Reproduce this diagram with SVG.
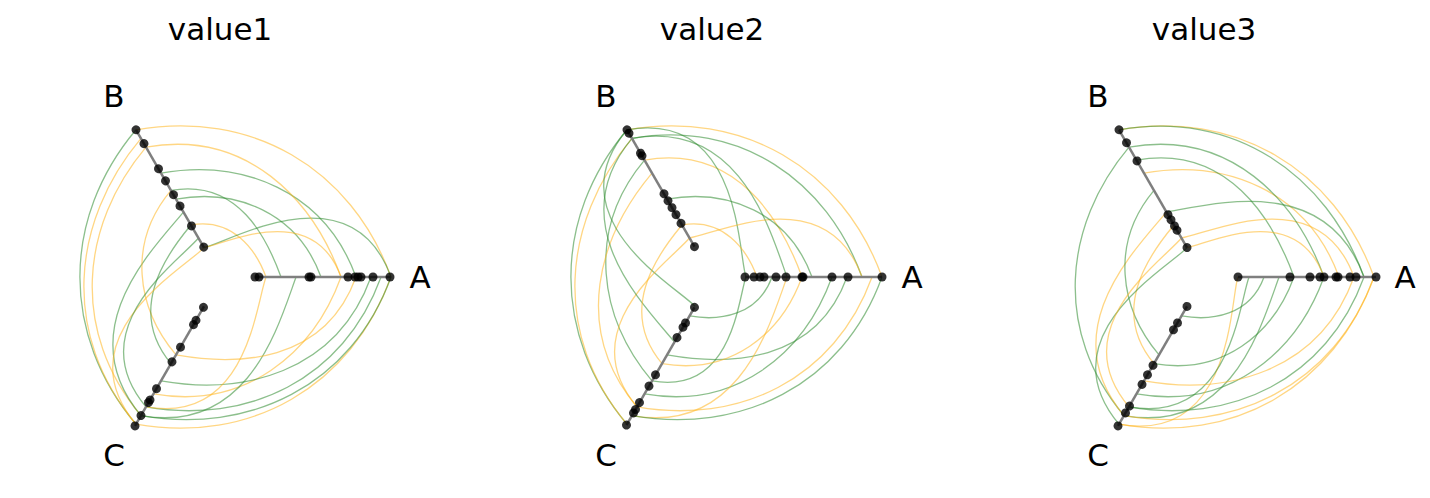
<svg xmlns="http://www.w3.org/2000/svg" width="1430" height="498" viewBox="0 0 1430 498">
<style>
text{font-family:"DejaVu Sans",sans-serif;font-size:31px;fill:#000}
.ax{stroke:#7f7f7f;stroke-width:2.5;fill:none}
.d{fill:#000;fill-opacity:.8}
.o{fill:none;stroke:#FFB41E;stroke-opacity:.55;stroke-width:1.3}
.g{fill:none;stroke:#2E8B2E;stroke-opacity:.55;stroke-width:1.3}
</style>
<defs>
<path id="t1" d="M170,0 C130.2,-109.3 29.6,-167.5 -85,-147.2"/>
<path id="t2" d="M150,0 C114.9,-96.5 27.8,-157.6 -80,-138.6"/>
<path id="t3" d="M135,0 C103.4,-86.8 20.9,-118.2 -60,-103.9"/>
<path id="t4" d="M120,0 C91.9,-77.2 26.1,-147.8 -75,-129.9"/>
<path id="t5" d="M100,0 C76.6,-64.3 15.7,-88.7 -45,-77.9"/>
<path id="t6" d="M90,0 C68.9,-57.9 23.5,-133 -67.5,-116.9"/>
<path id="t7" d="M60,0 C46,-38.6 17.4,-98.5 -50,-86.6"/>
<path id="t8" d="M45,0 C34.5,-28.9 10.4,-59.1 -30,-52"/>
<path id="t9" d="M34,0 C26,-21.9 29.6,-167.5 -85,-147.2"/>
<path id="t10" d="M170,0 C130.2,-109.3 5.9,-33.5 -17,-29.4"/>
<path id="t11" d="M160,0 C122.6,-102.9 13.1,-73.9 -37.5,-65"/>
<path id="t12" d="M75,0 C57.5,-48.2 27.8,-157.6 -80,-138.6"/>
<path id="t13" d="M150,0 C114.9,-96.5 7.8,-44.3 -22.5,-39"/>
<path id="t14" d="M45,0 C34.5,-28.9 26.1,-147.8 -75,-129.9"/>
<path id="t15" d="M120,0 C91.9,-77.2 5.9,-33.5 -17,-29.4"/>
<path id="t16" d="M160,0 C122.6,-102.9 29.6,-167.5 -85,-147.2"/>
</defs>
<g id="titles">
<text x="220" y="40" text-anchor="middle">value1</text>
<text x="712" y="40" text-anchor="middle">value2</text>
<text x="1204" y="40" text-anchor="middle">value3</text>
</g>
<g id="connectors">
<g transform="translate(221,277)">
<use href="#t1" class="o" transform="rotate(120)"/><use href="#t2" class="g" transform="rotate(120)"/>
<use href="#t3" class="o" transform="rotate(120)"/><use href="#t4" class="g" transform="rotate(120)"/>
<use href="#t11" class="g" transform="rotate(120)"/><use href="#t13" class="o" transform="rotate(120)"/>
<use href="#t16" class="g" transform="rotate(120)"/><use href="#t6" class="o" transform="rotate(120)"/>
<use href="#t1" class="g" transform="rotate(-120)"/><use href="#t2" class="o" transform="rotate(-120)"/>
<use href="#t12" class="g" transform="rotate(-120)"/><use href="#t5" class="o" transform="rotate(-120)"/>
<use href="#t7" class="g" transform="rotate(-120)"/><use href="#t9" class="o" transform="rotate(-120)"/>
<use href="#t16" class="o" transform="rotate(-120)"/><use href="#t14" class="g" transform="rotate(-120)"/>
<use href="#t1" class="o"/><use href="#t3" class="g"/><use href="#t5" class="g"/><use href="#t8" class="o"/>
<use href="#t10" class="g"/><use href="#t15" class="o"/><use href="#t4" class="o"/><use href="#t7" class="g"/>
</g>
<g transform="translate(712,277)">
<use href="#t1" class="o"/><use href="#t2" class="g"/><use href="#t6" class="o"/><use href="#t12" class="g"/>
<use href="#t9" class="g"/><use href="#t13" class="o"/><use href="#t5" class="g"/><use href="#t8" class="o"/>
<use href="#t1" class="g" transform="rotate(-120)"/><use href="#t16" class="o" transform="rotate(-120)"/>
<use href="#t3" class="g" transform="rotate(-120)"/><use href="#t4" class="o" transform="rotate(-120)"/>
<use href="#t10" class="g" transform="rotate(-120)"/><use href="#t14" class="o" transform="rotate(-120)"/>
<use href="#t11" class="g" transform="rotate(-120)"/><use href="#t7" class="o" transform="rotate(-120)"/>
<use href="#t2" class="o" transform="rotate(120)"/><use href="#t3" class="g" transform="rotate(120)"/>
<use href="#t15" class="g" transform="rotate(120)"/><use href="#t6" class="g" transform="rotate(120)"/>
<use href="#t11" class="o" transform="rotate(120)"/><use href="#t5" class="o" transform="rotate(120)"/>
<use href="#t16" class="g" transform="rotate(120)"/><use href="#t8" class="g" transform="rotate(120)"/>
</g>
<g transform="translate(1204,277)">
<use href="#t1" class="o"/><use href="#t16" class="g"/><use href="#t3" class="o"/><use href="#t6" class="g"/>
<use href="#t11" class="g"/><use href="#t13" class="o"/><use href="#t4" class="g"/><use href="#t15" class="o"/>
<use href="#t2" class="g" transform="rotate(-120)"/><use href="#t12" class="o" transform="rotate(-120)"/>
<use href="#t5" class="g" transform="rotate(-120)"/><use href="#t7" class="o" transform="rotate(-120)"/>
<use href="#t9" class="g" transform="rotate(-120)"/><use href="#t14" class="o" transform="rotate(-120)"/>
<use href="#t1" class="o" transform="rotate(120)"/><use href="#t2" class="g" transform="rotate(120)"/>
<use href="#t3" class="g" transform="rotate(120)"/><use href="#t10" class="o" transform="rotate(120)"/>
<use href="#t11" class="g" transform="rotate(120)"/><use href="#t13" class="g" transform="rotate(120)"/>
<use href="#t4" class="o" transform="rotate(120)"/><use href="#t5" class="g" transform="rotate(120)"/>
<use href="#t8" class="g" transform="rotate(120)"/><use href="#t16" class="o" transform="rotate(120)"/>
</g>
</g>
<g id="panel1" transform="translate(221,277)">
<path class="ax" d="M34,0H170"/><path class="ax" d="M34,0H170" transform="rotate(-120)"/><path class="ax" d="M34,0H172" transform="rotate(120)"/>
<g class="d"><circle cx="34" r="4.5"/><circle cx="38" r="4.5"/><circle cx="88" r="4.5"/><circle cx="90" r="4.5"/><circle cx="127" r="4.5"/><circle cx="134" r="4.5"/><circle cx="137" r="4.5"/><circle cx="140" r="4.5"/><circle cx="152" r="4.5"/><circle cx="169" r="4.5"/></g>
<g class="d" transform="rotate(-120)"><circle cx="34.5" r="4.5"/><circle cx="59" r="4.5"/><circle cx="82" r="4.5"/><circle cx="95" r="4.5"/><circle cx="111" r="4.5"/><circle cx="125" r="4.5"/><circle cx="154" r="4.5"/><circle cx="170" r="4.5"/></g>
<g class="d" transform="rotate(120)"><circle cx="35" r="4.5"/><circle cx="50" r="4.5"/><circle cx="55" r="4.5"/><circle cx="81" r="4.5"/><circle cx="98" r="4.5"/><circle cx="129" r="4.5"/><circle cx="142" r="4.5"/><circle cx="145" r="4.5"/><circle cx="160" r="4.5"/><circle cx="172" r="4.5"/></g>
<text x="199" y="11" text-anchor="middle">A</text><text x="-107" y="-170" text-anchor="middle">B</text><text x="-107" y="189" text-anchor="middle">C</text>
</g>
<g id="panel2" transform="translate(712,277)">
<path class="ax" d="M33,0H170"/><path class="ax" d="M35,0H170" transform="rotate(-120)"/><path class="ax" d="M35,0H171" transform="rotate(120)"/>
<g class="d"><circle cx="33" r="4.5"/><circle cx="42" r="4.5"/><circle cx="48" r="4.5"/><circle cx="52" r="4.5"/><circle cx="64" r="4.5"/><circle cx="74" r="4.5"/><circle cx="90" r="4.5"/><circle cx="91" r="4.5"/><circle cx="120" r="4.5"/><circle cx="136" r="4.5"/><circle cx="170" r="4.5"/></g>
<g class="d" transform="rotate(-120)"><circle cx="35" r="4.5"/><circle cx="62" r="4.5"/><circle cx="72" r="4.5"/><circle cx="80" r="4.5"/><circle cx="88" r="4.5"/><circle cx="96" r="4.5"/><circle cx="140" r="4.5"/><circle cx="143" r="4.5"/><circle cx="166" r="4.5"/><circle cx="170" r="4.5"/></g>
<g class="d" transform="rotate(120)"><circle cx="35" r="4.5"/><circle cx="53" r="4.5"/><circle cx="58" r="4.5"/><circle cx="70" r="4.5"/><circle cx="113" r="4.5"/><circle cx="126" r="4.5"/><circle cx="145" r="4.5"/><circle cx="153" r="4.5"/><circle cx="157" r="4.5"/><circle cx="171" r="4.5"/></g>
<text x="200" y="11" text-anchor="middle">A</text><text x="-106" y="-170" text-anchor="middle">B</text><text x="-106" y="189" text-anchor="middle">C</text>
</g>
<g id="panel3" transform="translate(1204,277)">
<path class="ax" d="M34,0H172"/><path class="ax" d="M34,0H170" transform="rotate(-120)"/><path class="ax" d="M34,0H172" transform="rotate(120)"/>
<g class="d"><circle cx="34" r="4.5"/><circle cx="86" r="4.5"/><circle cx="106" r="4.5"/><circle cx="116" r="4.5"/><circle cx="120" r="4.5"/><circle cx="132" r="4.5"/><circle cx="134" r="4.5"/><circle cx="146" r="4.5"/><circle cx="152" r="4.5"/><circle cx="172" r="4.5"/></g>
<g class="d" transform="rotate(-120)"><circle cx="34" r="4.5"/><circle cx="54" r="4.5"/><circle cx="59" r="4.5"/><circle cx="66" r="4.5"/><circle cx="72" r="4.5"/><circle cx="134" r="4.5"/><circle cx="155" r="4.5"/><circle cx="170" r="4.5"/></g>
<g class="d" transform="rotate(120)"><circle cx="34" r="4.5"/><circle cx="53" r="4.5"/><circle cx="61" r="4.5"/><circle cx="102" r="4.5"/><circle cx="113" r="4.5"/><circle cx="124" r="4.5"/><circle cx="149" r="4.5"/><circle cx="157" r="4.5"/><circle cx="172" r="4.5"/></g>
<text x="201" y="11" text-anchor="middle">A</text><text x="-106" y="-170" text-anchor="middle">B</text><text x="-106" y="189" text-anchor="middle">C</text>
</g>
</svg>
